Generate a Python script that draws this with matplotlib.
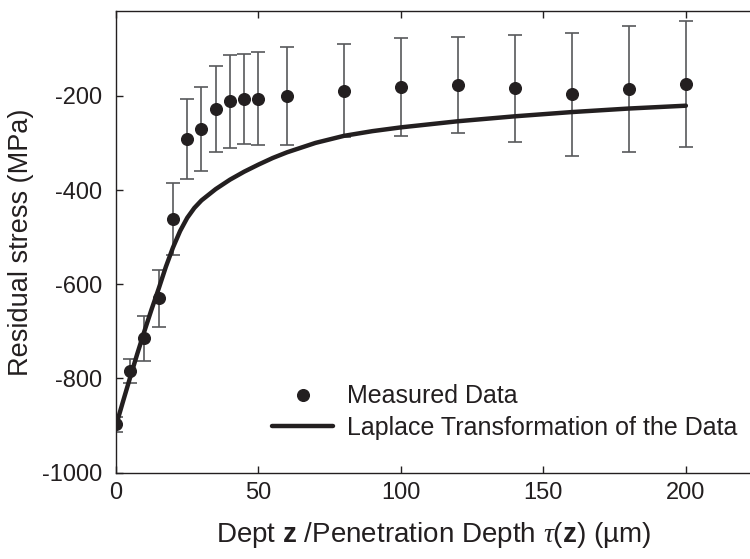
import matplotlib
matplotlib.use('Agg')
import matplotlib.pyplot as plt

plt.rcParams['font.family'] = ['Liberation Sans', 'DejaVu Sans']
plt.rcParams['axes.unicode_minus'] = False
plt.rcParams['mathtext.fontset'] = 'custom'
plt.rcParams['mathtext.rm'] = 'Liberation Sans'
plt.rcParams['mathtext.bf'] = 'Liberation Sans:bold'
plt.rcParams['mathtext.it'] = 'Liberation Serif:italic'

# measured residual stress with error bars
depth = [0, 5, 10, 15, 20, 25, 30, 35, 40, 45, 50, 60, 80, 100, 120, 140, 160, 180, 200]
stress = [-897, -784, -715, -630, -461, -291, -270, -228, -212, -207, -206, -200,
          -189, -182, -177, -184, -197, -186, -175]
err = [16, 26, 48, 60, 76, 85, 89, 91, 98, 96, 98, 104, 99, 104, 101, 113, 130, 134, 133]

# Laplace transformation curve
tau = [0, 2.5, 5, 7.5, 10, 12.5, 15, 17.5, 20, 22.5, 25, 27.5, 30, 35, 40, 45, 50, 55,
       60, 70, 80, 90, 100, 120, 140, 160, 180, 200]
laplace = [-900, -848, -797, -747, -699, -653, -609, -563, -522, -487, -459, -438, -422,
           -398, -378, -361, -346, -332, -320, -300, -285, -275, -267, -254, -243.5,
           -234.5, -227, -221]

INK = '#231f20'

fig = plt.figure(figsize=(7.5, 5.59), dpi=100)
ax = fig.add_axes([116/750, 1 - 472.7/559, 1 - 116/750, (472.7 - 11)/559])

ax.errorbar(depth, stress, yerr=err, fmt='none', ecolor='#58595b', elinewidth=1.2,
            capsize=4.9, capthick=1.2, zorder=2)
ax.plot(tau, laplace, color=INK, lw=3.2, solid_capstyle='round',
        solid_joinstyle='round', zorder=3, label='Laplace Transformation of the Data')
ax.plot(depth, stress, 'o', color=INK, ms=8.4, zorder=4, label='Measured Data')

ax.set_xlim(0, 222.5)
ax.set_ylim(-1000, -20)
ax.set_xticks([0, 50, 100, 150, 200])
ax.set_yticks([-1000, -800, -600, -400, -200])
ax.spines['right'].set_visible(False)
for s in ('left', 'bottom', 'top'):
    ax.spines[s].set_linewidth(1.0)
    ax.spines[s].set_color(INK)
ax.tick_params(axis='x', direction='in', top=True, length=5, width=1.0, pad=7,
               labelsize=17, colors=INK)
ax.tick_params(axis='y', direction='in', right=False, length=5, width=1.0, pad=10,
               labelsize=17, colors=INK)

ax.set_xlabel(r'Dept $\mathbf{z}$ /Penetration Depth $\tau$($\mathbf{z}$) (µm)',
              fontsize=20, color=INK, labelpad=11)
ax.set_ylabel('Residual stress (MPa)', fontsize=19.5, color=INK, labelpad=6)

h, l = ax.get_legend_handles_labels()
ax.legend([h[1], h[0]], [l[1], l[0]], loc='center left', bbox_to_anchor=(272/750, 1 - 412.2/559),
          bbox_transform=fig.transFigure, frameon=False, fontsize=18, borderpad=0,
          borderaxespad=0, handlelength=2.44, handletextpad=0.55, labelspacing=0.3,
          labelcolor=INK)

fig.savefig('out.png', dpi=100)
